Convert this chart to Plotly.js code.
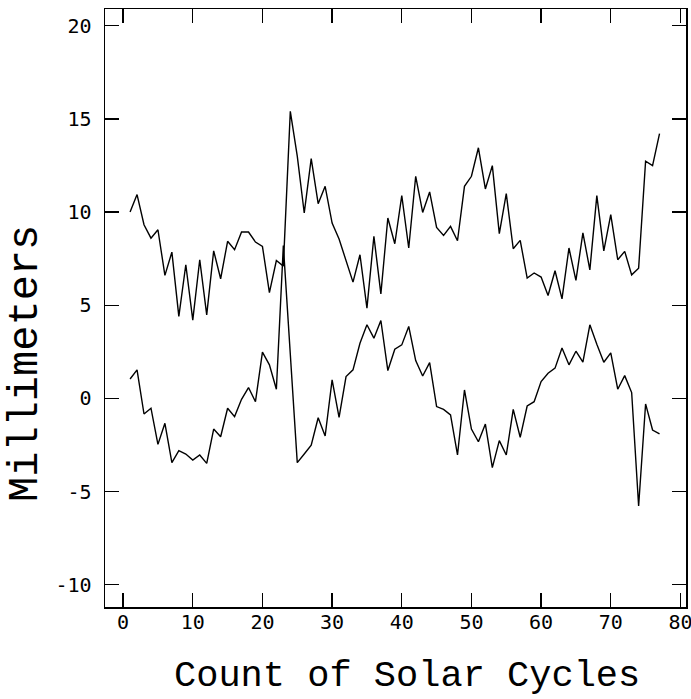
<!DOCTYPE html>
<html>
<head>
<meta charset="utf-8">
<script src="https://cdn.plot.ly/plotly-3.0.1.min.js"></script>
<style>html,body{margin:0;padding:0;background:#fff;}#chart{width:691px;height:699px;}</style>
</head>
<body>
<div id="chart"></div>
<script>
// Count of solar cycles (x) for both series
const cycles = [];
for (let i = 1; i <= 77; i++) cycles.push(i);

// Upper series (millimeters)
const upperSeries = [
  10.0, 10.94, 9.32, 8.6, 9.05, 6.6, 7.85, 4.4, 7.17, 4.2,
  7.44, 4.48, 7.92, 6.42, 8.43, 7.98, 8.93, 8.93, 8.39, 8.16,
  5.68, 7.4, 7.1, 15.41, 13.0, 9.95, 12.87, 10.45, 11.38, 9.41,
  8.55, 7.44, 6.24, 7.71, 4.84, 8.7, 5.61, 9.68, 8.3, 10.88,
  8.07, 11.92, 9.98, 11.08, 9.18, 8.75, 9.23, 8.46, 11.38, 11.92,
  13.45, 11.24, 12.49, 8.84, 10.99, 8.03, 8.48, 6.46, 6.73, 6.51,
  5.52, 6.85, 5.34, 8.07, 6.33, 8.88, 6.9, 10.88, 7.92, 9.86,
  7.44, 7.89, 6.63, 6.99, 12.73, 12.49, 14.21
];

// Lower series (millimeters)
const lowerSeries = [
  1.04, 1.53, -0.84, -0.53, -2.47, -1.34, -3.45, -2.81, -2.99, -3.31,
  -3.04, -3.49, -1.65, -2.06, -0.53, -0.98, -0.05, 0.58, -0.18, 2.48,
  1.8, 0.49, 8.2, 2.3, -3.45, -2.99, -2.51, -1.04, -2.02, 0.99,
  -1.02, 1.17, 1.53, 2.96, 3.95, 3.23, 4.18, 1.49, 2.64, 2.87,
  3.86, 2.03, 1.2, 1.92, -0.44, -0.59, -0.89, -3.04, 0.45, -1.65,
  -2.33, -1.38, -3.72, -2.27, -3.04, -0.59, -2.09, -0.41, -0.18, 0.9,
  1.35, 1.62, 2.7, 1.8, 2.53, 1.94, 3.95, 2.9, 1.94, 2.44,
  0.49, 1.22, 0.31, -5.78, -0.3, -1.7, -1.91
];

const xTicks = [0, 10, 20, 30, 40, 50, 60, 70, 80];
const yTicks = [-10, -5, 0, 5, 10, 15, 20];
const xTitle = 'Count of Solar Cycles';
const yTitle = 'Millimeters';

const lineStyle = {color: '#000', width: 1.4};

const traces = [
  {x: cycles, y: upperSeries, type: 'scatter', mode: 'lines', line: lineStyle, name: 'upper', hoverinfo: 'x+y'},
  {x: cycles, y: lowerSeries, type: 'scatter', mode: 'lines', line: lineStyle, name: 'lower', hoverinfo: 'x+y'}
];

const axisCommon = {
  showgrid: false,
  zeroline: false,
  showline: true,
  linecolor: '#000',
  linewidth: 1.5,
  mirror: 'ticks',
  ticks: 'inside',
  ticklen: 14,
  tickwidth: 1.3,
  tickcolor: '#000',
  ticklabeloverflow: 'allow',
  tickfont: {family: 'DejaVu Sans Mono', size: 20, color: '#000'}
};

const layout = {
  width: 691,
  height: 699,
  margin: {l: 105, r: 5, t: 9, b: 92},
  paper_bgcolor: '#fff',
  plot_bgcolor: '#fff',
  showlegend: false,
  xaxis: Object.assign({}, axisCommon, {
    range: [-2.6, 80.8],
    tickmode: 'array',
    tickvals: xTicks,
    ticktext: xTicks.map(String),
    ticklabelstandoff: -4
  }),
  yaxis: Object.assign({}, axisCommon, {
    range: [-11.2, 20.9],
    tickmode: 'array',
    tickvals: yTicks,
    ticktext: yTicks.map(String),
    ticklabelstandoff: 8
  }),
  annotations: [
    {text: xTitle, xref: 'paper', yref: 'paper', x: 0.52, y: -0.115,
     xanchor: 'center', yanchor: 'middle', showarrow: false,
     font: {family: 'Liberation Mono', size: 37, color: '#000'}},
    {text: yTitle, xref: 'paper', yref: 'paper', x: -0.136, y: 0.408,
     xanchor: 'center', yanchor: 'middle', showarrow: false, textangle: -90,
     font: {family: 'Liberation Mono', size: 42, color: '#000'}}
  ]
};

Plotly.newPlot('chart', traces, layout, {displayModeBar: false, staticPlot: true});
</script>
</body>
</html>
